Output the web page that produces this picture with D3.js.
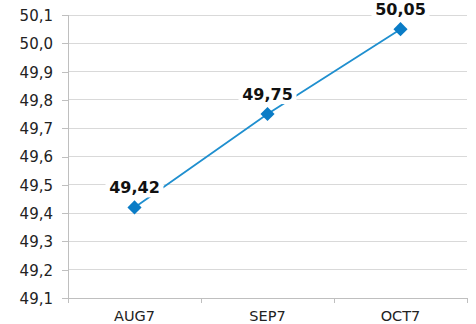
<!DOCTYPE html>
<html>
<head>
<meta charset="utf-8">
<script src="https://cdn.jsdelivr.net/npm/d3@7"></script>
<style>
  html, body { margin: 0; padding: 0; background: #fff; }
  svg { display: block; }
</style>
</head>
<body>
<svg id="chart" width="476" height="324"></svg>
<script>
const categories = ["AUG7", "SEP7", "OCT7"];
const values = [49.42, 49.75, 50.05];
const yTicks = [49.1, 49.2, 49.3, 49.4, 49.5, 49.6, 49.7, 49.8, 49.9, 50.0, 50.1];

const svg = d3.select("#chart");
const margin = { left: 68, right: 9, top: 15, bottom: 26 };
const W = 476, H = 324;
const FONT = "Verdana, 'DejaVu Sans', sans-serif";
const fmt = v => v.toFixed(1).replace(".", ",");
const fmt2 = v => v.toFixed(2).replace(".", ",");

const x = d3.scaleBand().domain(categories).range([margin.left, W - margin.right]);
const y = d3.scaleLinear().domain([49.1, 50.1]).range([H - margin.bottom, margin.top]);

// horizontal gridlines
svg.append("g")
  .selectAll("line")
  .data(yTicks.slice(1))
  .join("line")
  .attr("x1", margin.left).attr("x2", W - margin.right)
  .attr("y1", d => y(d)).attr("y2", d => y(d))
  .attr("stroke", "#d9d9d9").attr("stroke-width", 1)
  .attr("shape-rendering", "crispEdges");

// y axis
const yAxis = svg.append("g")
  .attr("transform", `translate(${margin.left},0)`)
  .call(d3.axisLeft(y).tickValues(yTicks).tickFormat(fmt).tickSize(6).tickPadding(9));
yAxis.select(".domain").attr("stroke", "#bfbfbf").attr("shape-rendering", "crispEdges");
yAxis.selectAll(".tick line").attr("stroke", "#bfbfbf").attr("shape-rendering", "crispEdges");
yAxis.selectAll(".tick text")
  .attr("fill", "#222").attr("dy", "0.36em")
  .style("font-family", FONT).style("font-size", "15px");

// x axis with boundary ticks
const xAxisG = svg.append("g").attr("transform", `translate(0,${H - margin.bottom})`);
xAxisG.append("line")
  .attr("x1", margin.left).attr("x2", W - margin.right)
  .attr("stroke", "#bfbfbf").attr("shape-rendering", "crispEdges");
const bounds = categories.map(c => x(c)).concat([x(categories[categories.length - 1]) + x.bandwidth()]);
xAxisG.selectAll("line.b").data(bounds).join("line")
  .attr("class", "b")
  .attr("x1", d => d).attr("x2", d => d).attr("y1", 0).attr("y2", 5)
  .attr("stroke", "#bfbfbf").attr("shape-rendering", "crispEdges");
xAxisG.selectAll("text").data(categories).join("text")
  .attr("x", d => x(d) + x.bandwidth() / 2).attr("y", 23)
  .attr("text-anchor", "middle")
  .attr("fill", "#222").style("font-family", FONT).style("font-size", "14.5px")
  .text(d => d);

const cx = (d, i) => x(categories[i]) + x.bandwidth() / 2;

// series line
svg.append("path")
  .datum(values)
  .attr("d", d3.line().x((d, i) => cx(d, i)).y(d => y(d)))
  .attr("fill", "none").attr("stroke", "#1f8fcf").attr("stroke-width", 1.8);

// value labels with white backing
const labels = svg.append("g").selectAll("g").data(values).join("g")
  .attr("transform", (d, i) => `translate(${cx(d, i)},${y(d) - 14})`);
labels.append("rect")
  .attr("x", -29).attr("y", -13).attr("width", 58).attr("height", 17).attr("fill", "#fff");
labels.append("text")
  .attr("text-anchor", "middle")
  .attr("fill", "#111").style("font-family", FONT)
  .style("font-size", "16px").style("font-weight", "bold")
  .text(d => fmt2(d));

// diamond markers
svg.append("g").selectAll("path").data(values).join("path")
  .attr("d", d3.symbol(d3.symbolSquare, 100))
  .attr("transform", (d, i) => `translate(${cx(d, i)},${y(d)}) rotate(45)`)
  .attr("fill", "#0a7cc6");
</script>
</body>
</html>
